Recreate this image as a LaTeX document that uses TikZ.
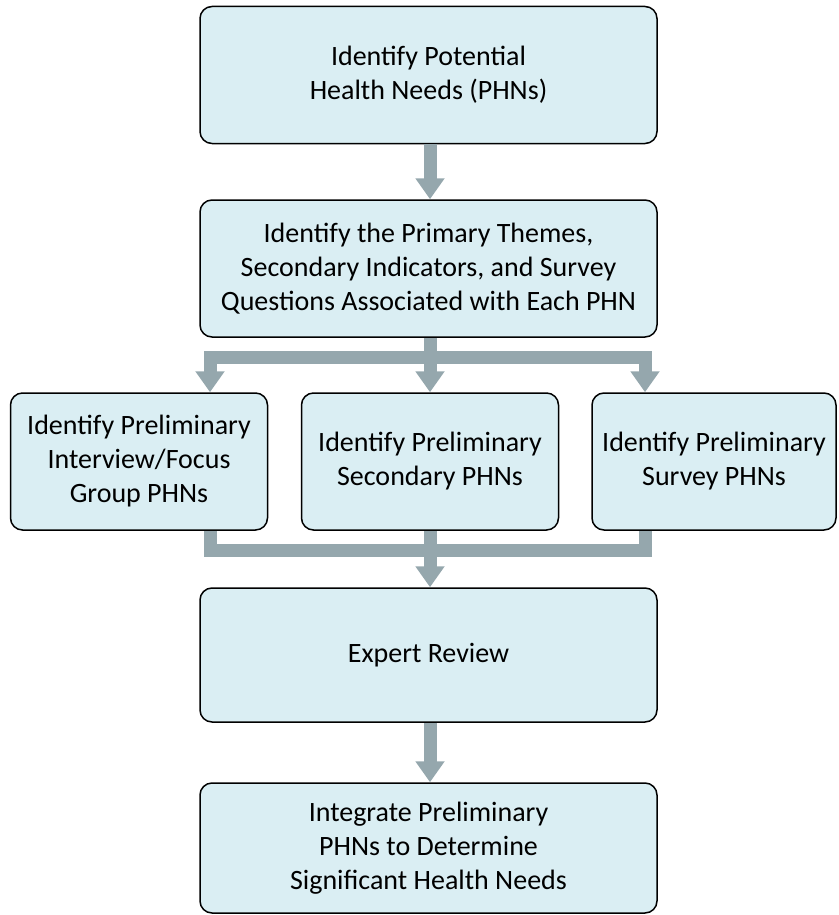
\documentclass[tikz,border=0pt]{standalone}
\usepackage{fontspec}
\setmainfont{Carlito}
\usetikzlibrary{arrows.meta}
\definecolor{boxblue}{HTML}{DAEEF3}
\definecolor{flowgray}{HTML}{95A7AD}

\begin{document}
\begin{tikzpicture}[x=1pt,y=-1pt,line join=round,
    stage/.style={draw=black,line width=1.5pt,fill=boxblue,rounded corners=12pt,
      align=center,inner sep=0pt,font=\fontsize{28}{34}\selectfont},
    wide/.style={stage,minimum width=457pt,minimum height=137pt},
    narrow/.style={stage,minimum width=257pt,minimum height=137pt},
    flow/.style={draw=flowgray,line width=13pt},
    bar/.style={flow,line cap=rect},
    flowarrow/.style={flow,-{Triangle[width=28pt,length=21pt]}}]
  \useasboundingbox (0,0) rectangle (838,915);

  % main column
  \node[wide] (potential) at (428.5,75) {Identify Potential\\Health Needs (PHNs)};
  \node[wide] (themes) at (428.5,268.5) {Identify the Primary Themes,\\Secondary Indicators, and Survey\\Questions Associated with Each PHN};

  % three preliminary lists
  \node[narrow] (focus) at (139,461.5) {Identify Preliminary\\Interview/Focus\\Group PHNs};
  \node[narrow] (secondary) at (430,461.5) {Identify Preliminary\\Secondary PHNs};
  \node[narrow,minimum width=244pt] (survey) at (714,461.5) {Identify Preliminary\\Survey PHNs};

  \node[wide,minimum height=134pt] (review) at (428.5,655) {Expert Review};
  \node[wide,minimum height=130pt] (integrate) at (428.5,848) {Integrate Preliminary\\PHNs to Determine\\Significant Health Needs};

  \coordinate (splitL) at (210,357);
  \coordinate (split) at (430,357);
  \coordinate (splitR) at (645,357);
  \coordinate (joinL) at (210,550);
  \coordinate (join) at (430,550);
  \coordinate (joinR) at (645,550);

  \draw[flowarrow] (potential.south -| split) -- (themes.north -| split);
  \draw[flow] (themes.south -| split) -- (split);
  \draw[bar] (splitL) -- (splitR);
  \foreach \b/\c in {focus/splitL,secondary/split,survey/splitR} {
      \draw[flowarrow] (\c) -- (\c |- \b.north);
      \draw[flow] (\b.south -| \c) -- (\c |- join);
    }
  \draw[bar] (joinL) -- (joinR);
  \draw[flowarrow] (join) -- (review.north -| join);
  \draw[flowarrow] (review.south -| split) -- (integrate.north -| split);
\end{tikzpicture}
\end{document}
